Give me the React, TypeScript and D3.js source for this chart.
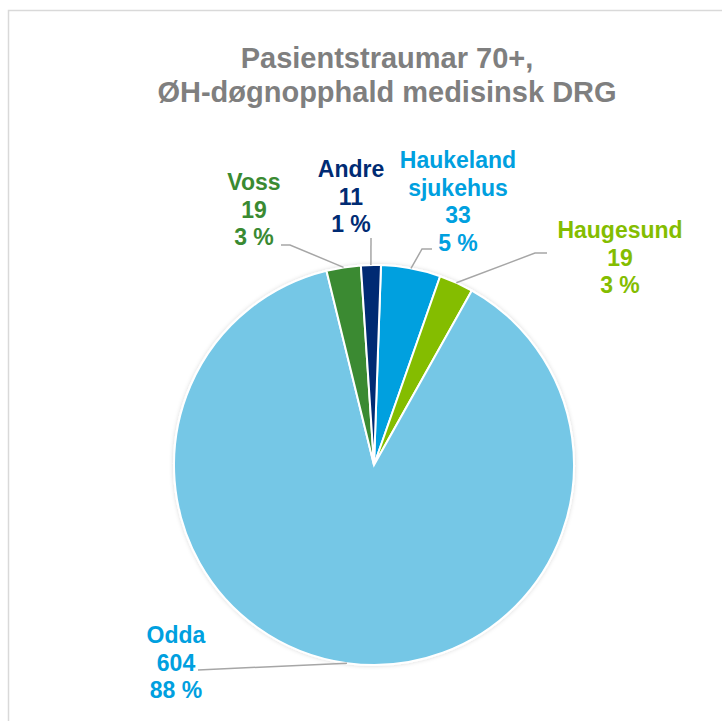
import React from 'react';
import * as d3 from 'd3';

const titleLines = ['Pasientstraumar 70+,', 'ØH-døgnopphald medisinsk DRG'];

const categories = ['Haukeland sjukehus', 'Haugesund', 'Odda', 'Voss', 'Andre'];
const values = [33, 19, 604, 19, 11];
const percentLabels = ['5 %', '3 %', '88 %', '3 %', '1 %'];
const sliceColors = ['#00A0DF', '#84BD00', '#74C7E6', '#3A8A32', '#002B73'];
const labelColors = ['#00A0DF', '#84BD00', '#00A0DF', '#3A8A32', '#002B73'];
const nameLines = [['Haukeland', 'sjukehus'], ['Haugesund'], ['Odda'], ['Voss'], ['Andre']];

// label block anchors (x center, y of first line baseline) + elbow of the leader line
const labelPos = [
  { x: 458, y: 168, lx: 432, ly: 249, ex: 422 },
  { x: 620, y: 238, lx: 547, ly: 253, ex: 535 },
  { x: 176, y: 643, lx: 198, ly: 670, ex: 198 },
  { x: 254, y: 190, lx: 281, ly: 245, ex: 290 },
  { x: 351, y: 177, lx: 371, ly: 238, ex: 371 },
];

type Slice = d3.PieArcDatum<number>;

export default function App() {
  const width = 722;
  const height = 721;
  const cx = 374;
  const cy = 465;
  const r = 200;
  const rot = (2 * Math.PI) / 180;

  const pie = d3
    .pie<number>()
    .sort(null)
    .startAngle(rot)
    .endAngle(rot + 2 * Math.PI);
  const arcs = pie(values);
  const arc = d3.arc<Slice>().innerRadius(0).outerRadius(r);

  const edgePoint = (a: Slice) => {
    const m = (a.startAngle + a.endAngle) / 2;
    return [cx + r * Math.sin(m), cy - r * Math.cos(m)];
  };

  const font = "'Liberation Sans', Arial, Helvetica, sans-serif";
  const lh = 27.5;

  return (
    <svg
      width={width}
      height={height}
      style={{ position: 'absolute', left: 0, top: 0, background: '#fff' }}
    >
      <rect x={8.5} y={10.5} width={width} height={height} fill="#fff" stroke="#D9D9D9" strokeWidth={1.5} />
      {titleLines.map((t, i) => (
        <text
          key={t}
          x={387}
          y={68 + i * 34}
          textAnchor="middle"
          style={{ fontFamily: font }}
          fontWeight="bold"
          fontSize={29}
          fill="#7F7F7F"
        >
          {t}
        </text>
      ))}
      <defs>
        <filter id="sh" x="-10%" y="-10%" width="120%" height="120%">
          <feDropShadow dx="0" dy="0" stdDeviation="2" floodColor="#000" floodOpacity="0.15" />
        </filter>
      </defs>
      <g transform={`translate(${cx},${cy})`} filter="url(#sh)">
        {arcs.map((a, i) => (
          <path key={i} d={arc(a) as string} fill={sliceColors[i]} stroke="#fff" strokeWidth={2} />
        ))}
      </g>
      {arcs.map((a, i) => {
        const p = labelPos[i];
        const [ex, ey] = edgePoint(a);
        const pts: [number, number][] = [
          [p.lx, p.ly],
          [p.ex, p.ly],
          [ex, ey],
        ];
        return (
          <path
            key={'l' + i}
            d={d3.line()(pts) as string}
            fill="none"
            stroke="#A6A6A6"
            strokeWidth={1.5}
          />
        );
      })}
      {categories.map((c, i) => {
        const p = labelPos[i];
        const lines = [...nameLines[i], String(values[i]), percentLabels[i]];
        return (
          <text
            key={c}
            textAnchor="middle"
            style={{ fontFamily: font }}
            fontWeight="bold"
            fontSize={23}
            fill={labelColors[i]}
          >
            {lines.map((t, j) => (
              <tspan key={j} x={p.x} y={p.y + j * lh}>
                {t}
              </tspan>
            ))}
          </text>
        );
      })}
    </svg>
  );
}
